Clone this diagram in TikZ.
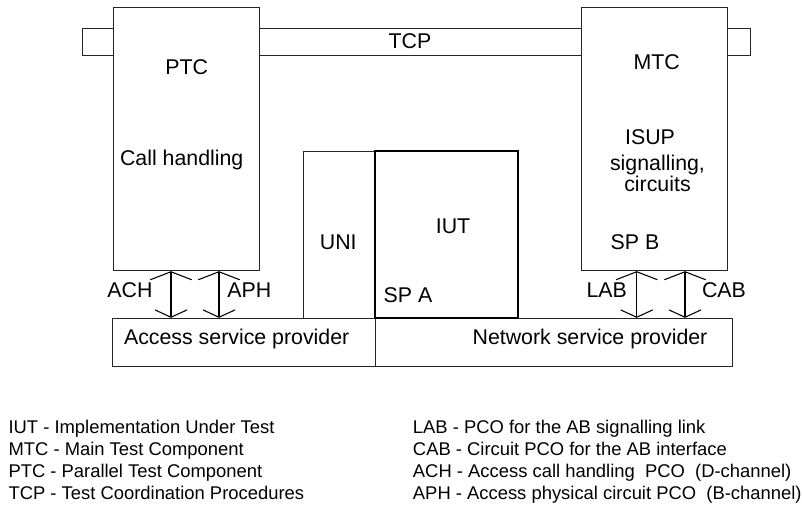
\documentclass[tikz,border=0pt]{standalone}
\usepackage{fontspec}
\setmainfont{Liberation Sans}
\usetikzlibrary{arrows.meta,fit}
\begin{document}
\begin{tikzpicture}[x=0.75pt,y=-0.75pt,
  box/.style={draw=black!85,line width=0.7pt,inner sep=0pt,fill=white},
  thickbox/.style={draw=black,line width=1.6pt,inner sep=0pt},
  lbl/.style={font=\fontsize{16}{19}\selectfont,anchor=base,inner sep=0pt},
  leg/.style={font=\fontsize{13.8}{16}\selectfont,anchor=base west,inner sep=0pt},
  pco/.style={line width=0.8pt,{Straight Barb[length=6pt,width=31pt]}-{Straight Barb[length=5.5pt,width=24pt]}}]
\useasboundingbox (0,0) rectangle (802,505);
% corner coordinates
\coordinate (tcpA) at (82.3,28.3);   \coordinate (tcpB) at (750.7,55);
\coordinate (ptcA) at (113.3,7.7);   \coordinate (ptcB) at (259.3,270.7);
\coordinate (mtcA) at (581.7,7.7);   \coordinate (mtcB) at (727.7,270.7);
\coordinate (uniA) at (303.3,151);   \coordinate (uniB) at (375,318.3);
\coordinate (iutA) at (375,151);     \coordinate (iutB) at (518.3,318.3);
\coordinate (accA) at (112.3,318.3); \coordinate (accB) at (375,366);
\coordinate (netA) at (375,318.3);   \coordinate (netB) at (732.3,366);
% boxes
\node[box,fit=(tcpA)(tcpB)] (tcp) {};
\node[box,fit=(ptcA)(ptcB)] (ptc) {};
\node[box,fit=(mtcA)(mtcB)] (mtc) {};
\node[box,fit=(uniA)(uniB)] (uni) {};
\node[box,fit=(accA)(accB)] (acc) {};
\node[box,fit=(netA)(netB)] (net) {};
\node[thickbox,fit=(iutA)(iutB)] (iut) {};
% arrows
\coordinate (achx) at (171,0);
\coordinate (aphx) at (219,0);
\coordinate (labx) at (636.7,0);
\coordinate (cabx) at (685,0);
\draw[pco] (ptc.south -| achx) -- (acc.north -| achx);
\draw[pco] (ptc.south -| aphx) -- (acc.north -| aphx);
\draw[pco] (mtc.south -| labx) -- (net.north -| labx);
\draw[pco] (mtc.south -| cabx) -- (net.north -| cabx);
% labels
\node[lbl] (tTCP) at (410,48.3) {TCP};
\node[lbl] (tPTC) at (186.7,75) {PTC};
\node[lbl] (tCall) at (181.7,165.7) {Call handling};
\node[lbl] (tMTC) at (656.7,70) {MTC};
\node[lbl] (tISUP) at (650,144.3) {ISUP};
\node[lbl,align=center,font=\fontsize{16}{13.8}\selectfont] (tSig) at (657.5,191.3) {signalling,\\circuits};
\node[lbl] (tUNI) at (338.3,250) {UNI};
\node[lbl] (tIUT) at (453,234) {IUT};
\node[lbl] (tSPA) at (408,302.7) {SP A};
\node[lbl] (tSPB) at (635,250) {SP B};
\node[lbl] (tACH) at (130,297.3) {ACH};
\node[lbl] (tAPH) at (249.3,297.3) {APH};
\node[lbl] (tLAB) at (606.7,297.3) {LAB};
\node[lbl] (tCAB) at (724,297.3) {CAB};
\node[lbl] (tAcc) at (236.7,345) {Access service provider};
\node[lbl] (tNet) at (590,345) {Network service provider};
% legend
\node[leg] (l1) at (8.3,433.3) {IUT - Implementation Under Test};
\node[leg] (l2) at (8.3,455.2) {MTC - Main Test Component};
\node[leg] (l3) at (8.3,477.1) {PTC - Parallel Test Component};
\node[leg] (l4) at (8.3,499) {TCP - Test Coordination Procedures};
\node[leg] (r1) at (412.7,433.3) {LAB - PCO for the AB signalling link};
\node[leg] (r2) at (412.7,455.2) {CAB - Circuit PCO for the AB interface};
\node[leg] (r3) at (412.7,477.1) {ACH - Access call handling\ \ PCO\ \ (D-channel)};
\node[leg] (r4) at (412.7,499) {APH - Access physical circuit PCO\ \ (B-channel)};
\end{tikzpicture}
\end{document}
